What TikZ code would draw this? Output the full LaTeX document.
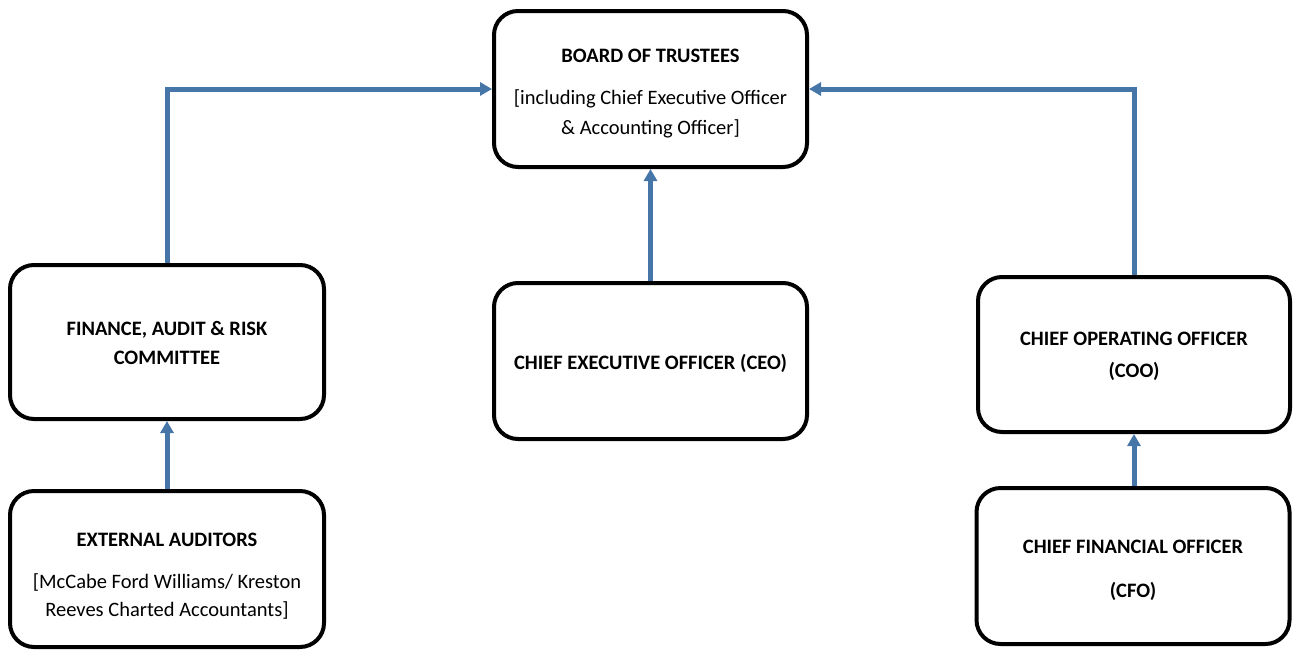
\documentclass[tikz,border=0pt]{standalone}
\usepackage{fontspec}
\setmainfont{Carlito}
\usetikzlibrary{arrows.meta}
\definecolor{connblue}{RGB}{70,118,168}
\newcommand{\topgap}[1]{\rule{0pt}{#1pt}}
\tikzset{
  orgbox/.style={draw=black, line width=4pt, rounded corners=24pt, align=center,
    inner sep=0pt, font=\fontsize{20.5}{29}\selectfont},
  conn/.style={draw=connblue, line width=5pt, -{Triangle[length=12pt,width=13pt]}}
}
\begin{document}
\begin{tikzpicture}[x=1pt,y=-1pt]
\useasboundingbox (0,0) rectangle (1295,651);
\node[orgbox, minimum width=313pt, minimum height=156pt] (board) at (650.5,89)
  {\topgap{23}\textbf{BOARD OF TRUSTEES}\\[13pt][including Chief Executive Officer\\[1pt]\& Accounting Officer]};
\node[orgbox, minimum width=314pt, minimum height=154pt] (far) at (167,342)
  {\topgap{17}\textbf{FINANCE, AUDIT \& RISK}\\\textbf{COMMITTEE}};
\node[orgbox, minimum width=313pt, minimum height=156pt] (ceo) at (650.5,361)
  {\topgap{19.5}\textbf{CHIEF EXECUTIVE OFFICER (CEO)}};
\node[orgbox, minimum width=312pt, minimum height=155pt] (coo) at (1134,354.5)
  {\topgap{17}\textbf{CHIEF OPERATING OFFICER}\\[3pt]\textbf{(COO)}};
\node[orgbox, minimum width=314pt, minimum height=156pt] (ea) at (167,569)
  {\topgap{27}\textbf{EXTERNAL AUDITORS}\\[13pt][McCabe Ford Williams/ Kreston\\[-1pt]Reeves Charted Accountants]};
\node[orgbox, minimum width=313pt, minimum height=156pt] (cfo) at (1133,566)
  {\topgap{23}\textbf{CHIEF FINANCIAL OFFICER}\\[15pt]\textbf{(CFO)}};
\draw[conn] (far.north) |- (board.west);
\draw[conn] (coo.north) |- (board.east);
\draw[conn] (ceo.north) -- (board.south);
\draw[conn] (ea.north) -- (far.south);
\draw[conn] (cfo.north -| coo.south) -- (coo.south);
\end{tikzpicture}
\end{document}
